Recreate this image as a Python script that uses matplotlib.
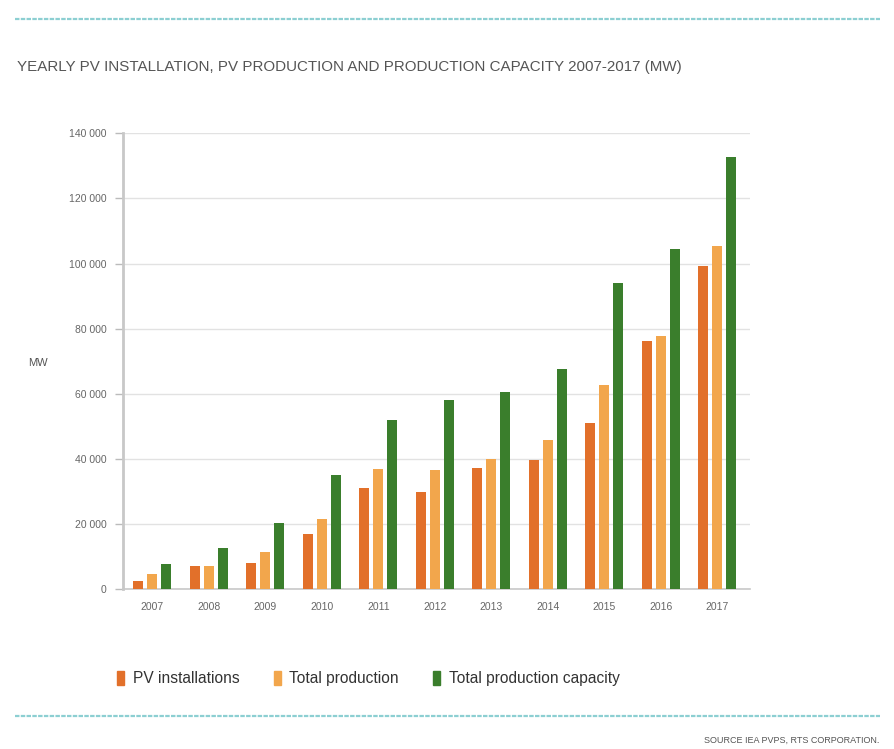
import numpy as np
import matplotlib.pyplot as plt
from matplotlib.lines import Line2D

# Data (MW)
years = ["2007", "2008", "2009", "2010", "2011", "2012", "2013", "2014", "2015", "2016", "2017"]
pv_installations = [2600, 7100, 8200, 17100, 31200, 30000, 37200, 39600, 51200, 76100, 99300]
total_production = [4600, 7100, 11400, 21700, 37000, 36700, 40100, 45900, 62600, 77900, 105400]
production_capacity = [7700, 12600, 20500, 35000, 52100, 58000, 60600, 67500, 94000, 104600, 132800]
y_ticks = [0, 20000, 40000, 60000, 80000, 100000, 120000, 140000]
y_tick_labels = ["0", "20 000", "40 000", "60 000", "80 000", "100 000", "120 000", "140 000"]

c_pv = "#e2702a"
c_prod = "#f2a64c"
c_cap = "#3a7e2c"
c_line = "#8ccfd2"

plt.rcParams["font.family"] = ["Liberation Sans", "DejaVu Sans"]

fig = plt.figure(figsize=(8.95, 7.49), dpi=100)
ax = fig.add_axes([0.1374, 0.2132, 0.7006, 0.6088])

x = np.arange(len(years))
w = 0.178
off = 0.248
ax.bar(x - off, pv_installations, w, color=c_pv, zorder=3)
ax.bar(x, total_production, w, color=c_prod, zorder=3)
ax.bar(x + off, production_capacity, w, color=c_cap, zorder=3)

ax.set_ylim(0, 140000)
ax.set_xlim(-0.52, 10.58)
ax.set_yticks(y_ticks)
ax.set_yticklabels(y_tick_labels)
ax.set_xticks(x)
ax.set_xticklabels(years)
ax.tick_params(axis="y", colors="#bbbbbb", labelcolor="#666666", labelsize=7.5,
               length=6, width=1, pad=6)
ax.tick_params(axis="x", length=0, labelcolor="#666666", labelsize=7.5, pad=9)

ax.grid(axis="y", color="#e2e2e2", linewidth=1, zorder=0)
for s in ["top", "right"]:
    ax.spines[s].set_visible(False)
ax.spines["left"].set_color("#c8c8c8")
ax.spines["left"].set_linewidth(2)
ax.spines["bottom"].set_color("#c8c8c8")
ax.spines["bottom"].set_linewidth(1.2)

fig.text(0.042, 0.515, "MW", ha="center", va="center", fontsize=8, color="#555555")

# Title
fig.text(0.019, 0.910, "YEARLY PV INSTALLATION, PV PRODUCTION AND PRODUCTION CAPACITY 2007-2017 (MW)",
         ha="left", va="center", fontsize=10.9, color="#555555")

# Decorative teal rules
fig.add_artist(Line2D([0.017, 0.983], [0.974, 0.974], color=c_line, linewidth=1.6,
                      linestyle=(0, (2, 0.6)), transform=fig.transFigure))
fig.add_artist(Line2D([0.017, 0.983], [0.044, 0.044], color=c_line, linewidth=1.6,
                      linestyle=(0, (2, 0.6)), transform=fig.transFigure))

# Legend
handles = [plt.Rectangle((0, 0), 1, 1, color=c) for c in (c_pv, c_prod, c_cap)]
fig.legend(handles, ["PV installations", "Total production", "Total production capacity"],
           loc="center left", bbox_to_anchor=(0.131, 0.094), ncol=3, frameon=False,
           fontsize=11.2, labelcolor="#333333", handlelength=0.45, handleheight=1.05,
           handletextpad=0.55, columnspacing=2.2, borderpad=0, borderaxespad=0)

fig.text(0.983, 0.012, "SOURCE IEA PVPS, RTS CORPORATION.", ha="right", va="center",
         fontsize=6.5, color="#555555")

fig.savefig("out.png", dpi=100)
